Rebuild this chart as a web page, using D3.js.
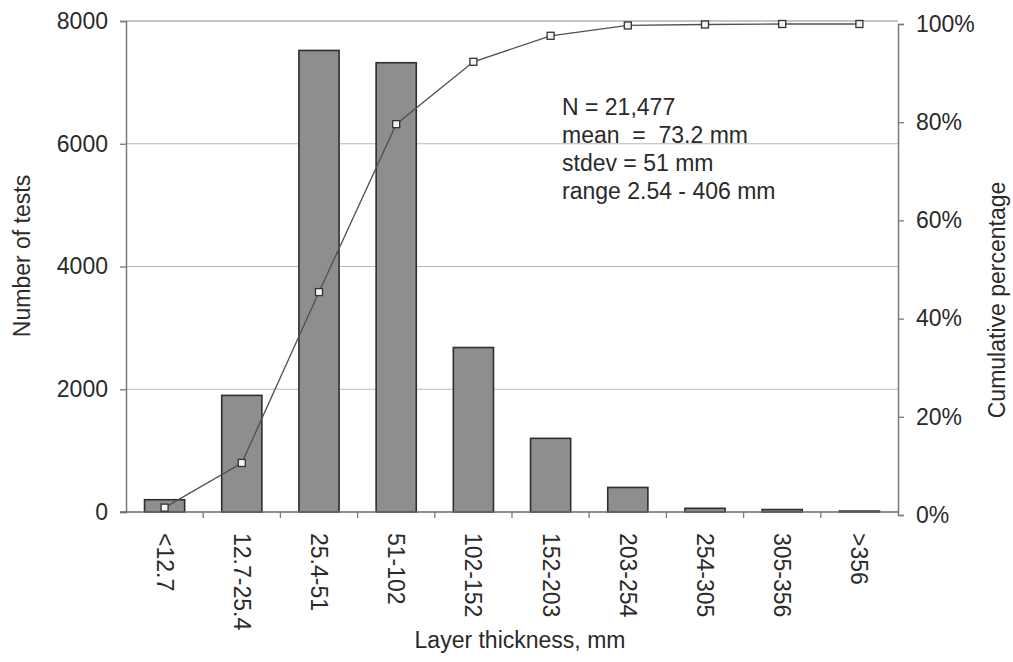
<!DOCTYPE html>
<html>
<head>
<meta charset="utf-8">
<script src="https://cdn.jsdelivr.net/npm/d3@7"></script>
<style>
  html, body { margin: 0; padding: 0; background: #fff; }
  svg { display: block; font-family: "Liberation Sans", Arial, sans-serif; }
</style>
</head>
<body>
<svg id="chart" width="1013" height="662"></svg>
<script>
const categories = ["<12.7", "12.7-25.4", "25.4-51", "51-102", "102-152", "152-203", "203-254", "254-305", "305-356", ">356"];
const counts = [200, 1900, 7520, 7320, 2680, 1200, 400, 60, 40, 15];
const cumulative = [1.5, 10.6, 45.4, 79.6, 92.3, 97.6, 99.7, 99.9, 100, 100];
const leftTicks = [0, 2000, 4000, 6000, 8000];
const rightTicks = [0, 20, 40, 60, 80, 100];
const statsLines = ["N = 21,477", "mean  =  73.2 mm", "stdev = 51 mm", "range 2.54 - 406 mm"];

(function () {
const svg = d3.select("#chart");
const pL = 126, pR = 898, pT = 21, pB = 512;
const fs = 23;

const x = d3.scaleBand().domain(categories).range([pL, pR]).paddingInner(0.48).paddingOuter(0.24);
const y = d3.scaleLinear().domain([0, 8000]).range([pB, pT]);
const y2 = d3.scaleLinear().domain([0, 100]).range([515, 24]);

// gridlines
svg.append("g").selectAll("line").data([2000, 4000, 6000, 8000]).join("line")
  .attr("x1", pL).attr("x2", pR)
  .attr("y1", d => y(d)).attr("y2", d => y(d))
  .attr("stroke", d => d === 8000 ? "#8a8a8a" : "#b8b8b8").attr("stroke-width", 1.2);

// bars
svg.append("g").selectAll("rect").data(counts).join("rect")
  .attr("x", (d, i) => x(categories[i]))
  .attr("y", d => y(d))
  .attr("width", x.bandwidth())
  .attr("height", d => y(0) - y(d))
  .attr("fill", "#8e8e8e")
  .attr("stroke", "#2e2e2e")
  .attr("stroke-width", 1.6);

// left axis
const gL = svg.append("g").attr("transform", `translate(${pL},0)`)
  .call(d3.axisLeft(y).tickValues(leftTicks).tickSize(6).tickPadding(12).tickFormat(d3.format("d")));
gL.select(".domain").attr("stroke", "#7a7a7a").attr("stroke-width", 1.5);
gL.selectAll(".tick line").attr("stroke", "#7a7a7a").attr("stroke-width", 1.3);
gL.selectAll(".tick text").attr("font-size", fs).attr("fill", "#2a2a2a").attr("font-family", "Liberation Sans, Arial, sans-serif");

// right axis
const gR = svg.append("g").attr("transform", `translate(${pR},0)`)
  .call(d3.axisRight(y2).tickValues(rightTicks).tickSize(6).tickPadding(12).tickFormat(d => d + "%"));
gR.select(".domain").attr("stroke", "#7a7a7a").attr("stroke-width", 1.5);
gR.selectAll(".tick line").attr("stroke", "#7a7a7a").attr("stroke-width", 1.3);
gR.selectAll(".tick text").attr("font-size", fs).attr("fill", "#2a2a2a").attr("font-family", "Liberation Sans, Arial, sans-serif");

// x axis
const gX = svg.append("g").attr("transform", `translate(0,${pB})`);
gX.append("line").attr("x1", pL - 6).attr("x2", pR).attr("y1", 0).attr("y2", 0)
  .attr("stroke", "#6a6a6a").attr("stroke-width", 1.6);
const step = x.step();
gX.selectAll("line.tk").data(d3.range(1, categories.length)).join("line")
  .attr("class", "tk")
  .attr("x1", i => pL + step * i).attr("x2", i => pL + step * i)
  .attr("y1", 0).attr("y2", 6)
  .attr("stroke", "#7a7a7a").attr("stroke-width", 1.3);
gX.selectAll("text").data(categories).join("text")
  .attr("transform", d => `translate(${x(d) + x.bandwidth() / 2},21) rotate(90)`)
  .attr("dy", "0.35em")
  .attr("text-anchor", "start")
  .attr("font-size", fs)
  .attr("fill", "#2a2a2a")
  .text(d => d);

// cumulative line
const line = d3.line().x((d, i) => x(categories[i]) + x.bandwidth() / 2).y(d => y2(d));
svg.append("path").datum(cumulative).attr("d", line)
  .attr("fill", "none").attr("stroke", "#505050").attr("stroke-width", 1.3);
svg.append("g").selectAll("rect").data(cumulative).join("rect")
  .attr("x", (d, i) => x(categories[i]) + x.bandwidth() / 2 - 3.5)
  .attr("y", d => y2(d) - 3.5)
  .attr("width", 7).attr("height", 7)
  .attr("fill", "#f4f4f4").attr("stroke", "#333").attr("stroke-width", 1.3);

// stats text
svg.append("g").selectAll("text").data(statsLines).join("text")
  .attr("x", 562).attr("y", (d, i) => 115 + i * 28)
  .attr("font-size", fs).attr("fill", "#2a2a2a")
  .attr("xml:space", "preserve").style("white-space", "pre")
  .text(d => d);

// axis titles
svg.append("text").attr("transform", "translate(30,256) rotate(-90)")
  .attr("text-anchor", "middle").attr("font-size", fs).attr("fill", "#2a2a2a")
  .text("Number of tests");
svg.append("text").attr("transform", "translate(989,300) rotate(-90)")
  .attr("text-anchor", "middle").attr("font-size", fs).attr("fill", "#2a2a2a")
  .attr("dy", "0.7em")
  .text("Cumulative percentage");
svg.append("text").attr("x", 520).attr("y", 648)
  .attr("text-anchor", "middle").attr("font-size", fs).attr("fill", "#2a2a2a")
  .text("Layer thickness, mm");
})();
</script>
</body>
</html>
